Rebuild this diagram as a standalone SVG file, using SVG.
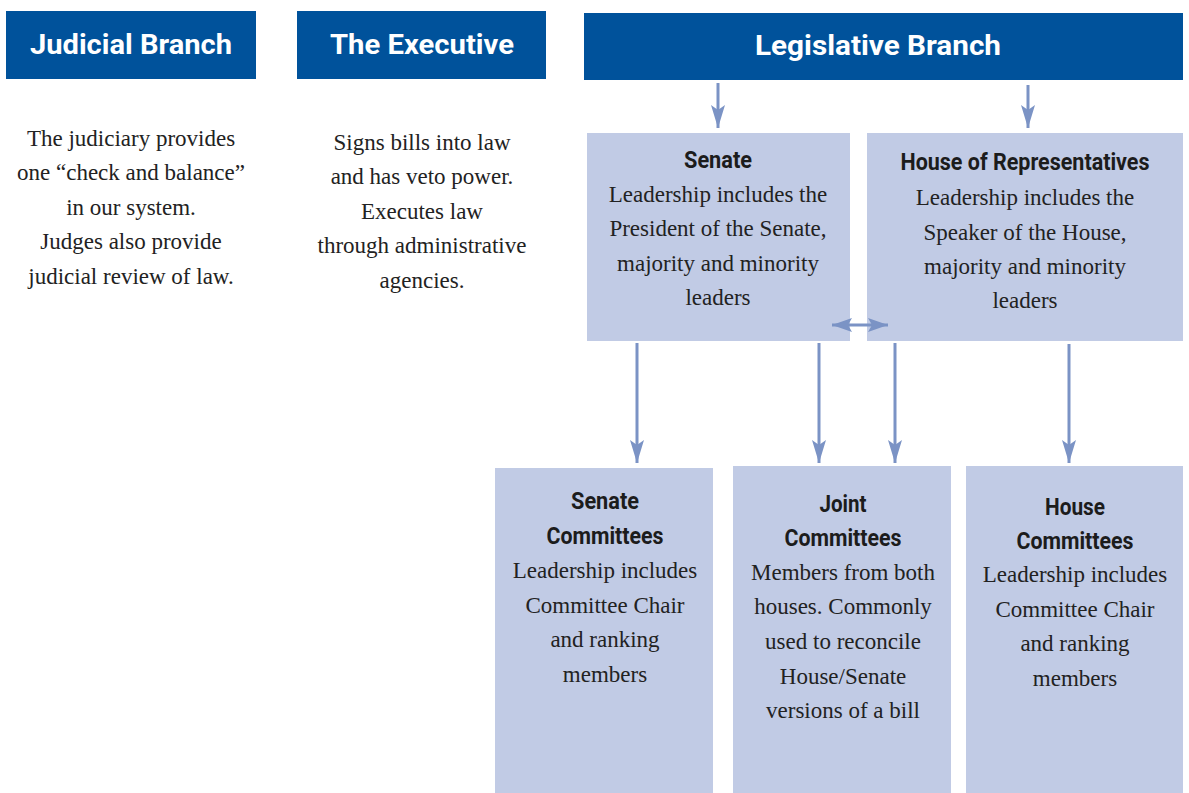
<svg xmlns="http://www.w3.org/2000/svg" width="1189" height="793" viewBox="0 0 1189 793">
<style>
.hdr{fill:#00529b}
.box{fill:#c1cbe5}
.ht{font-family:Roboto,"Liberation Sans",sans-serif;font-weight:bold;font-size:28px;fill:#fff;text-anchor:middle}
.bt{font-family:Roboto,"Liberation Sans",sans-serif;font-weight:bold;font-size:24px;fill:#1c1c1c;text-anchor:middle}
.tx{font-family:"Liberation Serif",serif;font-size:23px;fill:#222;text-anchor:middle}
.ln{stroke:#7b93c5;stroke-width:3;fill:none}
</style>
<defs>
<marker id="ah" markerUnits="userSpaceOnUse" markerWidth="26" markerHeight="16" refX="23" refY="7" orient="auto">
<path d="M0,0 L23,7 L0,14 L5,7 z" fill="#7b93c5"/>
</marker>
<marker id="ahs" markerUnits="userSpaceOnUse" markerWidth="24" markerHeight="16" refX="20" refY="7" orient="auto-start-reverse">
<path d="M0,0 L20,7 L0,14 L4,7 z" fill="#7b93c5"/>
</marker>
</defs>

<g id="judicial">
<rect class="hdr" x="6" y="11" width="250" height="68"/>
<text class="ht" x="131" y="54" textLength="202" lengthAdjust="spacingAndGlyphs">Judicial Branch</text>
<text class="tx" x="131" y="146">The judiciary provides</text>
<text class="tx" x="131" y="180">one “check and balance”</text>
<text class="tx" x="131" y="215">in our system.</text>
<text class="tx" x="131" y="249">Judges also provide</text>
<text class="tx" x="131" y="284">judicial review of law.</text>
</g>

<g id="executive">
<rect class="hdr" x="297" y="11" width="249" height="68"/>
<text class="ht" x="422" y="54" textLength="184" lengthAdjust="spacingAndGlyphs">The Executive</text>
<text class="tx" x="422" y="150">Signs bills into law</text>
<text class="tx" x="422" y="184">and has veto power.</text>
<text class="tx" x="422" y="219">Executes law</text>
<text class="tx" x="422" y="253">through administrative</text>
<text class="tx" x="422" y="288">agencies.</text>
</g>

<g id="legislative">
<rect class="hdr" x="584" y="13" width="599" height="67"/>
<text class="ht" x="878" y="55" textLength="246" lengthAdjust="spacingAndGlyphs">Legislative Branch</text>
</g>

<g id="senate">
<rect class="box" x="587" y="133" width="263" height="208"/>
<text class="bt" x="718" y="168" textLength="68" lengthAdjust="spacingAndGlyphs">Senate</text>
<text class="tx" x="718" y="202">Leadership includes the</text>
<text class="tx" x="718" y="236">President of the Senate,</text>
<text class="tx" x="718" y="271">majority and minority</text>
<text class="tx" x="718" y="305">leaders</text>
</g>

<g id="house">
<rect class="box" x="867" y="133" width="316" height="208"/>
<text class="bt" x="1025" y="170" textLength="249" lengthAdjust="spacingAndGlyphs">House of Representatives</text>
<text class="tx" x="1025" y="205">Leadership includes the</text>
<text class="tx" x="1025" y="240">Speaker of the House,</text>
<text class="tx" x="1025" y="274">majority and minority</text>
<text class="tx" x="1025" y="308">leaders</text>
</g>

<g id="senate-committees">
<rect class="box" x="495" y="468" width="218" height="325"/>
<text class="bt" x="605" y="509" textLength="68" lengthAdjust="spacingAndGlyphs">Senate</text>
<text class="bt" x="605" y="544" textLength="117" lengthAdjust="spacingAndGlyphs">Committees</text>
<text class="tx" x="605" y="578">Leadership includes</text>
<text class="tx" x="605" y="613">Committee Chair</text>
<text class="tx" x="605" y="647">and ranking</text>
<text class="tx" x="605" y="682">members</text>
</g>

<g id="joint-committees">
<rect class="box" x="733" y="466" width="218" height="327"/>
<text class="bt" x="843" y="512" textLength="47" lengthAdjust="spacingAndGlyphs">Joint</text>
<text class="bt" x="843" y="546" textLength="117" lengthAdjust="spacingAndGlyphs">Committees</text>
<text class="tx" x="843" y="580">Members from both</text>
<text class="tx" x="843" y="614">houses. Commonly</text>
<text class="tx" x="843" y="649">used to reconcile</text>
<text class="tx" x="843" y="684">House/Senate</text>
<text class="tx" x="843" y="718">versions of a bill</text>
</g>

<g id="house-committees">
<rect class="box" x="966" y="466" width="217" height="327"/>
<text class="bt" x="1075" y="515" textLength="60" lengthAdjust="spacingAndGlyphs">House</text>
<text class="bt" x="1075" y="549" textLength="117" lengthAdjust="spacingAndGlyphs">Committees</text>
<text class="tx" x="1075" y="582">Leadership includes</text>
<text class="tx" x="1075" y="617">Committee Chair</text>
<text class="tx" x="1075" y="651">and ranking</text>
<text class="tx" x="1075" y="686">members</text>
</g>

<g id="connectors">
<line class="ln" x1="718" y1="83" x2="718" y2="128" marker-end="url(#ah)"/>
<line class="ln" x1="1028" y1="85" x2="1028" y2="128" marker-end="url(#ah)"/>
<line class="ln" x1="637" y1="343" x2="637" y2="463" marker-end="url(#ah)"/>
<line class="ln" x1="819" y1="343" x2="819" y2="463" marker-end="url(#ah)"/>
<line class="ln" x1="895" y1="343" x2="895" y2="463" marker-end="url(#ah)"/>
<line class="ln" x1="1069" y1="344" x2="1069" y2="463" marker-end="url(#ah)"/>
<line class="ln" x1="832" y1="325" x2="888" y2="325" stroke-width="2" marker-start="url(#ahs)" marker-end="url(#ahs)"/>
</g>
</svg>
